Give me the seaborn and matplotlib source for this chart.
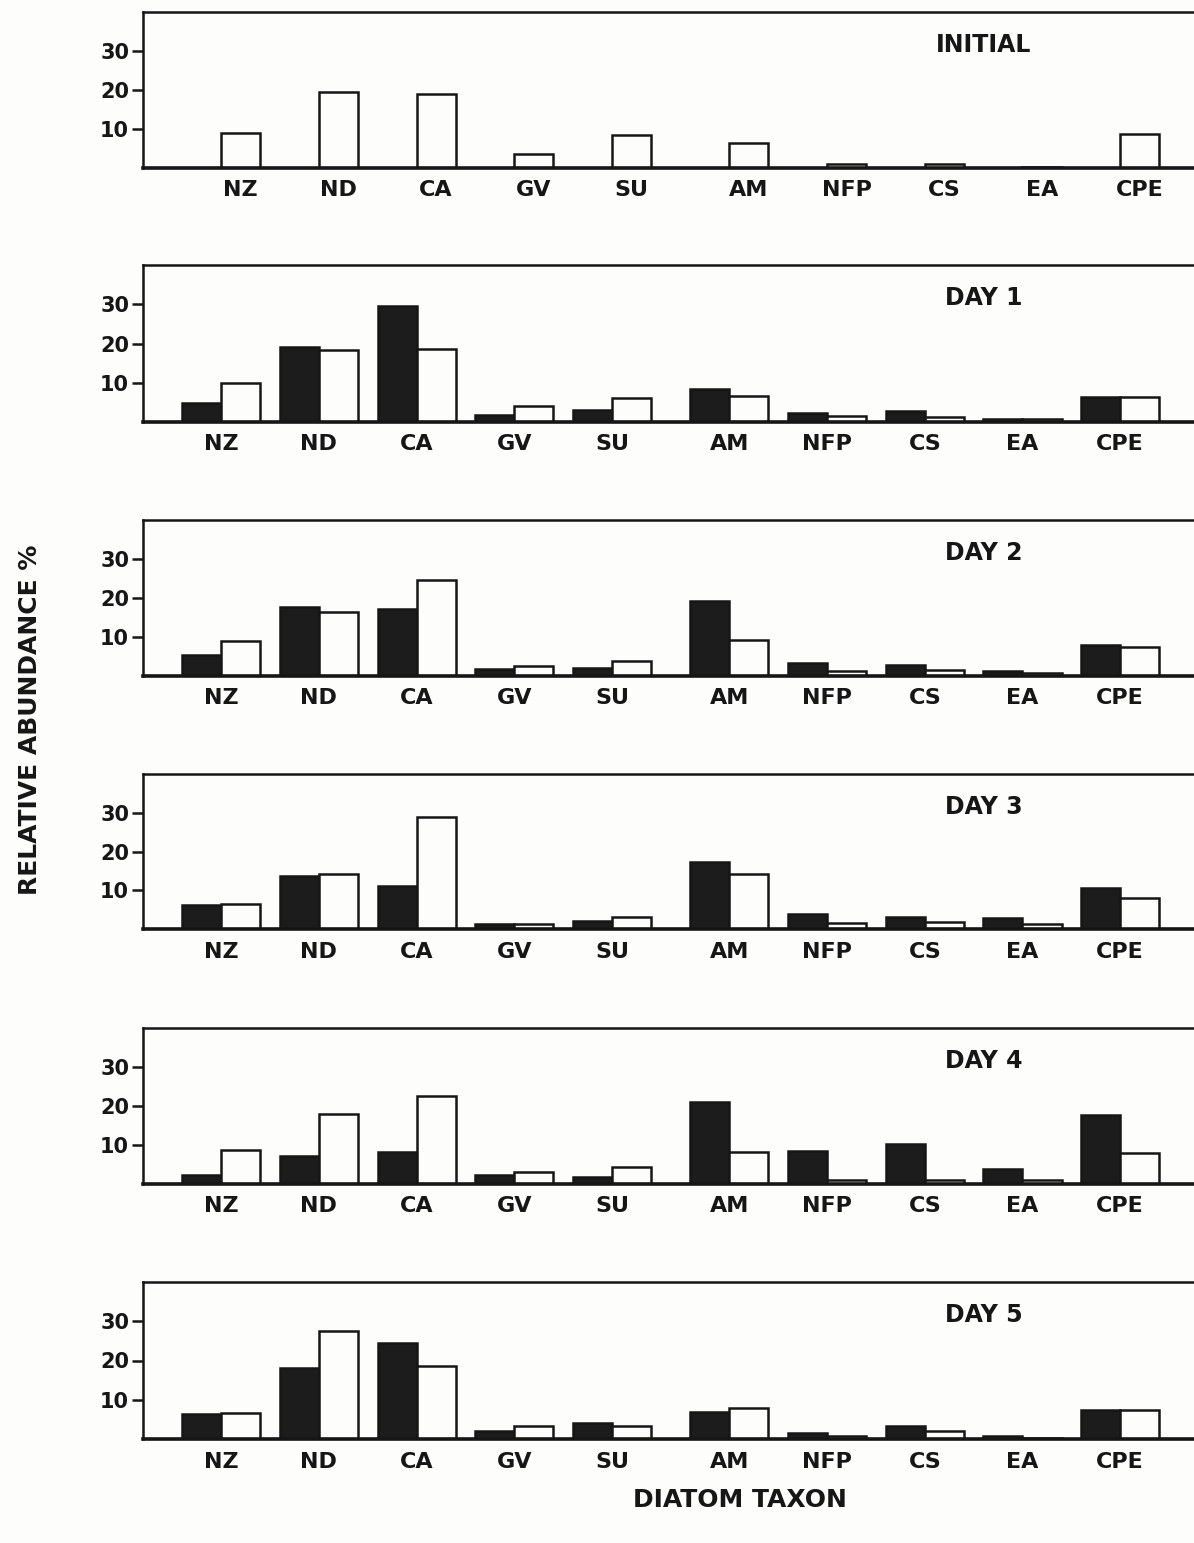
import numpy as np
import pandas as pd
import matplotlib
matplotlib.use("Agg")
import matplotlib.pyplot as plt
import seaborn as sns

# ---------------- data ----------------
taxa = ["NZ", "ND", "CA", "GV", "SU", "AM", "NFP", "CS", "EA", "CPE"]
panel_titles = ["INITIAL", "DAY 1", "DAY 2", "DAY 3", "DAY 4", "DAY 5"]

initial_open = [8.9, 19.5, 19.0, 3.6, 8.5, 6.4, 0.9, 1.0, 0.2, 8.8]

day1_filled = [4.9, 19.0, 29.6, 1.8, 3.1, 8.4, 2.2, 2.8, 0.8, 6.4]
day1_open = [10.0, 18.3, 18.5, 4.2, 6.2, 6.7, 1.5, 1.4, 0.8, 6.4]

day2_filled = [5.4, 17.8, 17.2, 1.7, 2.0, 19.3, 3.4, 2.9, 1.2, 7.9]
day2_open = [8.9, 16.3, 24.7, 2.6, 3.9, 9.3, 1.4, 1.5, 0.8, 7.4]

day3_filled = [6.2, 13.8, 11.1, 1.4, 2.0, 17.3, 3.9, 3.2, 2.8, 10.5]
day3_open = [6.4, 14.2, 28.9, 1.2, 3.2, 14.1, 1.5, 1.9, 1.4, 7.9]

day4_filled = [2.4, 7.3, 8.2, 2.4, 1.8, 20.9, 8.5, 10.3, 3.9, 17.7]
day4_open = [8.8, 17.9, 22.6, 3.1, 4.3, 8.1, 1.1, 0.9, 1.0, 7.9]

day5_filled = [6.4, 18.1, 24.5, 2.0, 4.1, 6.9, 1.5, 3.2, 0.7, 7.5]
day5_open = [6.6, 27.5, 18.5, 3.2, 3.2, 8.0, 0.7, 2.1, 0.3, 7.5]

y_ticks = [10, 20, 30]

filled_series = [None, day1_filled, day2_filled, day3_filled, day4_filled, day5_filled]
open_series = [initial_open, day1_open, day2_open, day3_open, day4_open, day5_open]

# ---------------- style ----------------
sns.set_theme(style="white")
plt.rcParams["font.family"] = ["DejaVu Sans"]
plt.rcParams["font.weight"] = "bold"

INK = "#161616"
BG = "#fdfdfb"

W, H = 1194, 1543
fig = plt.figure(figsize=(W / 100, H / 100), dpi=100, facecolor=BG)

# group positions: unit spacing with an extra gap before AM
idx = np.arange(len(taxa))
group_pos = idx + 0.2 * (idx >= taxa.index("AM"))

# panel frames (pixel layout)
tops = [12, 265, 520, 774, 1028, 1282]
bases = [168, 422, 676, 929, 1184, 1439]
left_px = 143

for k in range(6):
    rect = [left_px / W, 1 - bases[k] / H, 1 - left_px / W, (bases[k] - tops[k]) / H]
    ax = fig.add_axes(rect)
    ax.set_facecolor(BG)

    rows = []
    for t, p, v in zip(taxa, group_pos, open_series[k]):
        rows.append({"taxon": t, "pos": p, "series": "control", "value": v})
    if filled_series[k] is not None:
        for t, p, v in zip(taxa, group_pos, filled_series[k]):
            rows.append({"taxon": t, "pos": p, "series": "treated", "value": v})
    df = pd.DataFrame(rows)

    sns.barplot(
        data=df, x="pos", y="value", hue="series",
        hue_order=["treated", "control"],
        palette={"treated": "#1c1c1c", "control": BG},
        native_scale=True, dodge=True, width=0.8, errorbar=None,
        edgecolor=INK, linewidth=1.8, saturation=1, legend=False, ax=ax,
    )

    ax.set_xlim(-0.80, 9.955)
    ax.set_ylim(0, 40)
    ax.set_xlabel("")
    ax.set_ylabel("")

    shift = 0.2 if filled_series[k] is None else 0.0
    ax.set_xticks(group_pos + shift)
    ax.set_xticklabels(taxa, fontsize=16, fontweight="bold", color=INK)
    ax.set_yticks(y_ticks)
    ax.set_yticklabels([str(v) for v in y_ticks], fontsize=15, fontweight="bold", color=INK)

    ax.tick_params(axis="x", length=0, pad=9)
    ax.tick_params(axis="y", direction="out", length=8, width=1.8, color=INK, pad=2, left=True)

    ax.spines["right"].set_visible(False)
    for side, lw in (("top", 1.8), ("left", 1.8), ("bottom", 2.6)):
        ax.spines[side].set_visible(True)
        ax.spines[side].set_linewidth(lw)
        ax.spines[side].set_color(INK)

    ax.text(0.80, 0.79, panel_titles[k], transform=ax.transAxes,
            ha="center", va="center", fontsize=17, fontweight="bold", color=INK)

fig.text(30 / W, 1 - 720 / H, "RELATIVE ABUNDANCE %", rotation=90,
         ha="center", va="center", fontsize=18, fontweight="bold", color=INK)
fig.text(740 / W, 1 - 1500 / H, "DIATOM TAXON",
         ha="center", va="center", fontsize=18, fontweight="bold", color=INK)

fig.savefig("out.png", dpi=100, facecolor=BG)
